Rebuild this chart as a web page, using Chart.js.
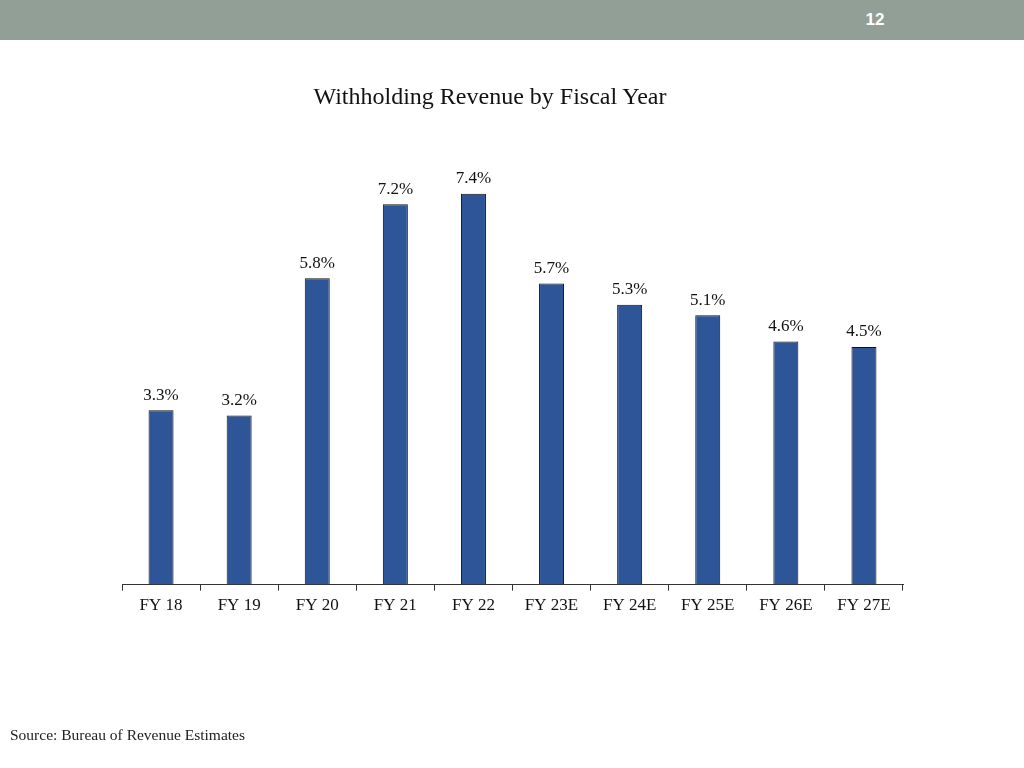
<!DOCTYPE html>
<html>
<head>
<meta charset="utf-8">
<script src="https://cdn.jsdelivr.net/npm/chart.js@4/dist/chart.umd.min.js"></script>
<style>
  html, body { margin: 0; padding: 0; background: #fff; }
  #page { position: relative; width: 1024px; height: 768px; overflow: hidden; }
  #bar { position: absolute; left: 0; top: 0; width: 1024px; height: 40px; background: #919f97; }
  #num { position: absolute; left: 855px; width: 40px; top: 10px; text-align: center;
         font: bold 17px "Liberation Sans", Arial, sans-serif; color: #fff; }
  #title { position: absolute; left: 0; width: 980px; top: 83px; text-align: center;
           font: 24px "Liberation Serif", "Times New Roman", serif; color: #111; }
  #source { position: absolute; left: 10px; top: 726px;
            font: 15.5px "Liberation Serif", "Times New Roman", serif; color: #222; }
  #chart { position: absolute; left: 0; top: 0; }
</style>
</head>
<body>
<div id="page">
  <canvas id="chart" width="1024" height="768"></canvas>
  <div id="bar"></div>
  <div id="num">12</div>
  <div id="title">Withholding Revenue by Fiscal Year</div>
  <div id="source">Source: Bureau of Revenue Estimates</div>
</div>
<script>
// Withholding revenue growth by fiscal year (%)
const years = ['FY 18', 'FY 19', 'FY 20', 'FY 21', 'FY 22', 'FY 23E', 'FY 24E', 'FY 25E', 'FY 26E', 'FY 27E'];
const growth = [3.3, 3.2, 5.8, 7.2, 7.4, 5.7, 5.3, 5.1, 4.6, 4.5];

const serif = '"Liberation Serif", "Times New Roman", serif';

// writes the value above each bar
const valueLabels = {
    id: 'valueLabels',
    afterDatasetsDraw(chart) {
        const ctx = chart.ctx;
        ctx.save();
        ctx.font = '17px ' + serif;
        ctx.fillStyle = '#111';
        ctx.textAlign = 'center';
        ctx.textBaseline = 'middle';
        chart.getDatasetMeta(0).data.forEach(function(bar, i) {
            ctx.fillText(growth[i].toFixed(1) + '%', bar.x, bar.y - 15);
        });
        ctx.restore();
    }
};

new Chart(document.getElementById('chart'), {
    type: 'bar',
    data: {
        labels: years,
        datasets: [{
            data: growth,
            backgroundColor: '#2e5597',
            borderColor: '#111',
            borderWidth: 1,
            borderSkipped: 'bottom',
            barPercentage: 0.32,
            categoryPercentage: 1
        }]
    },
    options: {
        responsive: false,
        animation: false,
        events: [],
        layout: { padding: { left: 122, right: 121, top: 162, bottom: 147 } },
        plugins: { legend: { display: false }, tooltip: { enabled: false } },
        scales: {
            y: { display: false, min: 0, max: 8 },
            x: {
                grid: { drawOnChartArea: false, tickLength: 6, color: '#333', offset: true },
                border: { color: '#333', width: 1 },
                ticks: { color: '#111', padding: 5, font: { family: serif, size: 17 } }
            }
        }
    },
    plugins: [valueLabels]
});
</script>
</body>
</html>
